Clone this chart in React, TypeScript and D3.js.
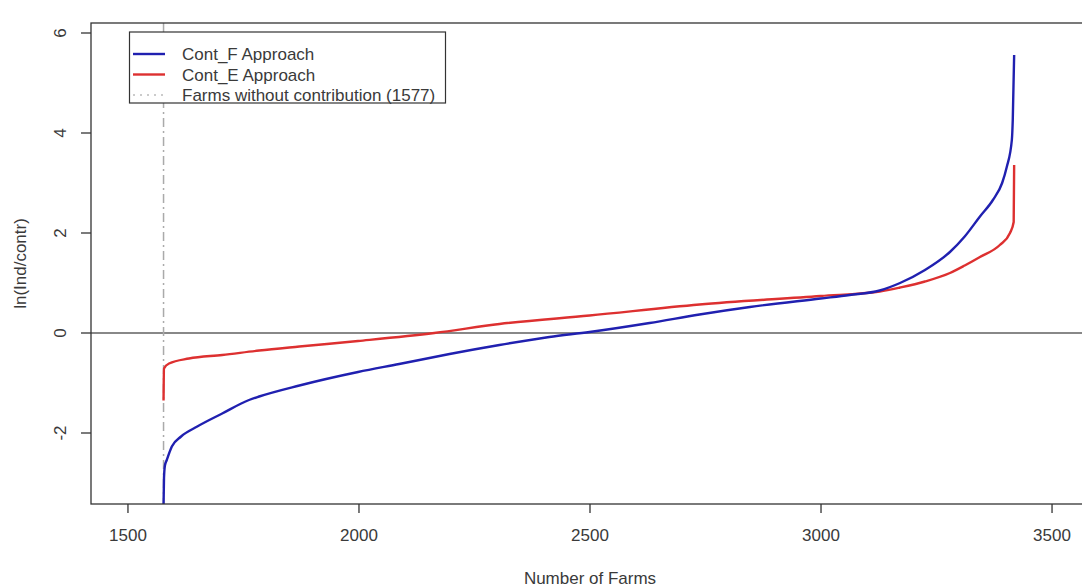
import React from 'react';
import * as d3 from 'd3';

// farm rank (sorted) vs ln(Ind/contr)
const contF_n = [1577, 1578, 1580, 1584, 1595, 1615, 1650, 1704, 1762, 1784, 1871, 1998, 2087, 2196, 2304, 2412, 2499, 2629, 2737, 2846, 2999, 3062, 3127, 3171, 3225, 3279, 3311, 3344, 3372, 3392, 3402, 3413, 3415, 3418];
const contF_v = [-3.45, -2.9, -2.65, -2.54, -2.27, -2.07, -1.87, -1.61, -1.34, -1.27, -1.05, -0.78, -0.62, -0.42, -0.24, -0.08, 0.02, 0.2, 0.37, 0.52, 0.69, 0.76, 0.85, 1.0, 1.26, 1.62, 1.93, 2.33, 2.66, 3.0, 3.32, 3.86, 4.26, 5.56];

const contE_n = [1577, 1578, 1589, 1632, 1704, 1784, 1871, 1998, 2163, 2304, 2499, 2737, 2999, 3127, 3171, 3225, 3279, 3311, 3344, 3387, 3409, 3417, 3418];
const contE_v = [-1.35, -0.71, -0.61, -0.51, -0.44, -0.35, -0.27, -0.16, 0.0, 0.18, 0.35, 0.57, 0.74, 0.83, 0.91, 1.03, 1.2, 1.35, 1.52, 1.76, 2.0, 2.22, 3.36];

const xTicks = [1500, 2000, 2500, 3000, 3500];
const yTicks = [-2, 0, 2, 4, 6];
const noContribution = 1577;

const legendItems = ['Cont_F Approach', 'Cont_E Approach', 'Farms without contribution (1577)'];
const legendColors = ['#2020b0', '#dd3030', '#bbbbbb'];

const W = 1082;
const H = 587;
const left = 91;
const right = 1089;
const top = 23;
const bottom = 504;
const font = '"Liberation Sans", Arial, sans-serif';
const textColor = '#3a3a3a';

const App = () => {
  const x = d3.scaleLinear().domain([1420, 3580]).range([left, right]);
  const y = d3.scaleLinear().domain([-3.42, 6.2]).range([bottom, top]);

  const path = d3
    .line<[number, number]>()
    .x((d) => x(d[0]))
    .y((d) => y(d[1]))
    .curve(d3.curveMonotoneX);

  const fPts = contF_n.map((n, i) => [n, contF_v[i]] as [number, number]);
  const ePts = contE_n.map((n, i) => [n, contE_v[i]] as [number, number]);

  return (
    <svg
      width={W}
      height={H}
      style={{ position: 'absolute', left: 0, top: 0, background: '#fff' }}
      fontFamily={font}
    >
      <defs>
        <clipPath id="plot">
          <rect x={left} y={top} width={right - left} height={bottom - top} />
        </clipPath>
      </defs>

      {/* zero line */}
      <line x1={left} x2={right} y1={y(0)} y2={y(0)} stroke="#888" strokeWidth={2} />

      {/* farms without contribution */}
      <line
        x1={x(noContribution)}
        x2={x(noContribution)}
        y1={top}
        y2={bottom}
        stroke="#aaa"
        strokeWidth={1.5}
        strokeDasharray="9,4,2,4"
      />

      <g clipPath="url(#plot)" fill="none" strokeWidth={2.4} strokeLinejoin="round">
        <path d={path(ePts) || ''} stroke={legendColors[1]} />
        <path d={path(fPts) || ''} stroke={legendColors[0]} />
      </g>

      {/* box */}
      <rect x={left} y={top} width={right - left} height={bottom - top} fill="none" stroke="#333" strokeWidth={1.3} />

      {/* x axis */}
      {xTicks.map((t) => (
        <g key={t}>
          <line x1={x(t)} x2={x(t)} y1={bottom} y2={bottom + 9} stroke="#333" strokeWidth={1.3} />
          <text x={x(t)} y={541} textAnchor="middle" fontSize={17} fill={textColor}>
            {t}
          </text>
        </g>
      ))}
      <text x={(left + right) / 2} y={584} textAnchor="middle" fontSize={17} fill={textColor}>
        Number of Farms
      </text>

      {/* y axis */}
      {yTicks.map((t) => (
        <g key={t}>
          <line x1={left - 10} x2={left} y1={y(t)} y2={y(t)} stroke="#333" strokeWidth={1.3} />
          <text
            transform={`translate(66,${y(t)}) rotate(-90)`}
            textAnchor="middle"
            fontSize={17}
            fill={textColor}
          >
            {t}
          </text>
        </g>
      ))}
      <text
        transform={`translate(26,${(top + bottom) / 2}) rotate(-90)`}
        textAnchor="middle"
        fontSize={17}
        fill={textColor}
      >
        ln(Ind/contr)
      </text>

      {/* legend */}
      <rect x={129.5} y={32} width={316} height={71} fill="#fff" stroke="#333" strokeWidth={1.2} />
      {legendItems.map((label, i) => {
        const ly = 54 + i * 20.5;
        return (
          <g key={label}>
            <line
              x1={133}
              x2={165}
              y1={ly}
              y2={ly}
              stroke={legendColors[i]}
              strokeWidth={i < 2 ? 2.4 : 1.5}
              strokeDasharray={i === 2 ? '2,5' : undefined}
            />
            <text x={182} y={ly + 6} fontSize={17} fill={textColor}>
              {label}
            </text>
          </g>
        );
      })}
    </svg>
  );
};

export default App;
